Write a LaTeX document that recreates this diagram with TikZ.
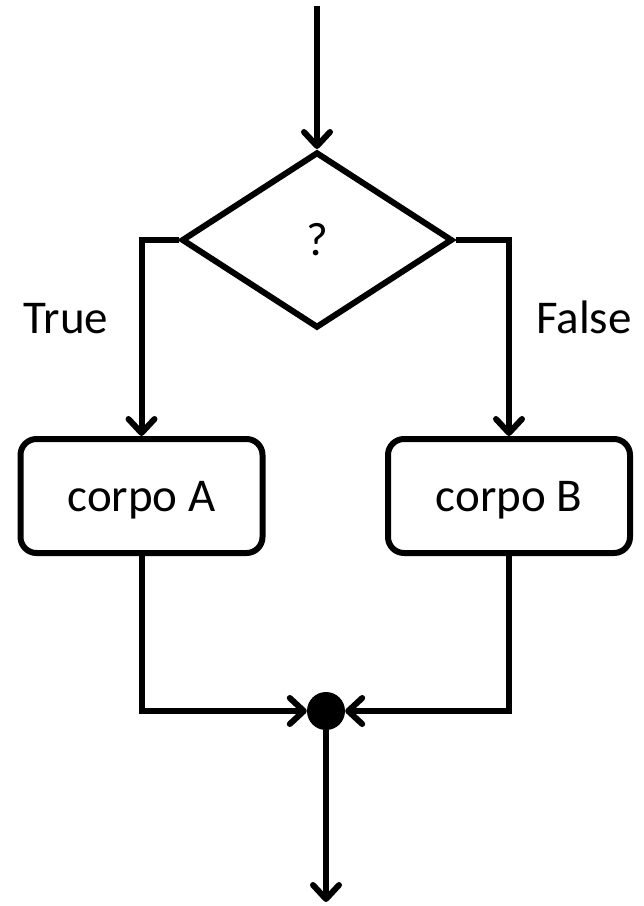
\documentclass[tikz,border=0pt]{standalone}
\usepackage{fontspec}
\setmainfont{Carlito}
\usetikzlibrary{shapes.geometric,arrows.meta}
\begin{document}
\begin{tikzpicture}[x=1pt,y=-1pt,
  every node/.style={font=\fontsize{47}{55}\selectfont},
  conn/.style={line width=6pt,-{Straight Barb[round,length=14pt,width=26pt,line width=6pt]}},
  decision/.style={diamond,draw,line width=6pt,minimum width=271pt,minimum height=176pt,inner sep=0pt,text height=30pt,text depth=0pt},
  body/.style={rectangle,rounded corners=16pt,draw,line width=6pt,minimum width=242pt,minimum height=114pt,text height=30pt,text depth=0pt},
  lbl/.style={anchor=base}]
\useasboundingbox (0,0) rectangle (644,906);
\coordinate (start) at (317,6);
\node[decision] (dec) at (317,240) {?};
\node[body] (A) at (141.5,496) {corpo A};
\node[body] (B) at (509,496) {corpo B};
\node[circle,fill=black,minimum size=38pt,inner sep=0pt] (dot) at (326,711) {};
\coordinate (end) at (326,902);
\node[lbl] (t) at (66,333) {True};
\node[lbl] (f) at (584,333) {False};
\draw[conn] (start) -- (dec.north);
\draw[conn] (dec.west) -| (A.north);
\draw[conn] (dec.east) -| (B.north);
\draw[conn] (A.south) |- (dot.west);
\draw[conn] (B.south) |- (dot.east);
\draw[conn] (dot.south) -- (end);
\end{tikzpicture}
\end{document}
